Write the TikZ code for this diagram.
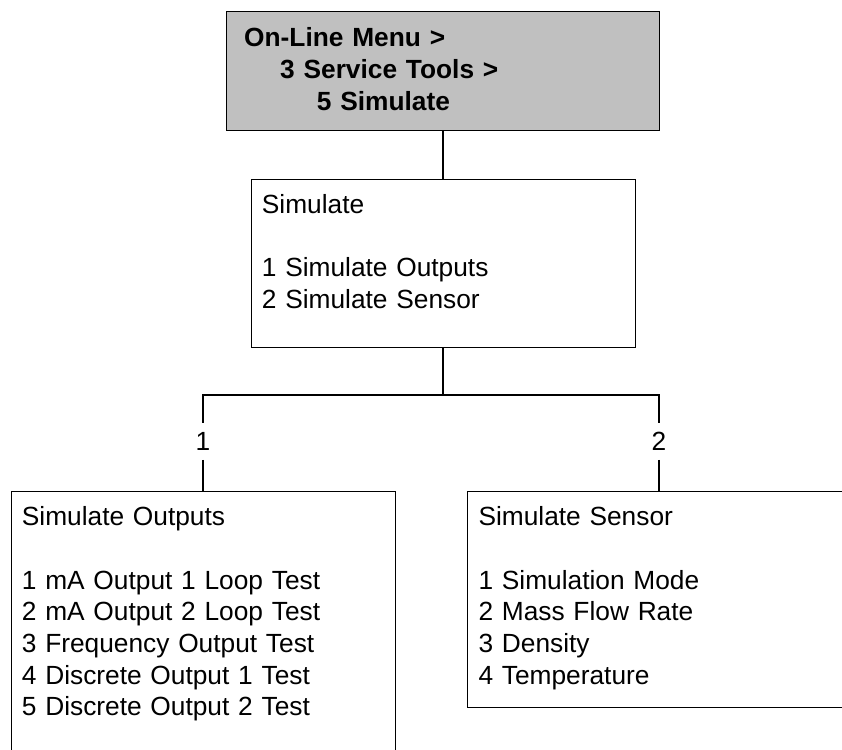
\documentclass[tikz,border=0pt]{standalone}
\usepackage{fontspec}
\setmainfont{Liberation Sans}
\begin{document}
\begin{tikzpicture}[x=1pt,y=-1pt,
  box/.style={draw=black,line width=1.3pt,rectangle,inner sep=0pt,anchor=north west},
  txt/.style={anchor=base west,inner sep=0pt,text width=420pt,align=left,
    font=\fontsize{26.3}{31.7}\selectfont},
  lbl/.style={inner xsep=2pt,inner ysep=9pt,font=\fontsize{26.3}{31.7}\selectfont},
  conn/.style={draw=black,line width=1.3pt}]
\useasboundingbox (0,0) rectangle (842,749);
\clip (0,0) rectangle (842,749);
% boxes
\node[box,fill={rgb,255:red,192;green,192;blue,192},minimum width=433pt,minimum height=119pt] (top) at (226,11) {};
\node[box,fill=white,minimum width=384pt,minimum height=168pt] (mid) at (251,179) {};
\node[box,fill=white,minimum width=384pt,minimum height=320pt] (out) at (11,491) {};
\node[box,fill=white,minimum width=400pt,minimum height=216pt] (sens) at (467,491) {};
% texts
\node[txt,font=\fontsize{26.3}{31.7}\selectfont\bfseries] (ttop) at (244,46.7)
  {On-Line Menu >\\\hspace*{36pt}3 Service Tools >\\\hspace*{72.7pt}5 Simulate};
\node[txt] (tmid) at (261.7,213)
  {Simulate\\[31.7pt]1 Simulate Outputs\\2 Simulate Sensor};
\node[txt] (tout) at (21.7,525.7)
  {Simulate Outputs\\[31.7pt]1 mA Output 1 Loop Test\\2 mA Output 2 Loop Test\\3 Frequency Output Test\\4 Discrete Output 1 Test\\5 Discrete Output 2 Test};
\node[txt] (tsens) at (478.3,525.7)
  {Simulate Sensor\\[31.7pt]1 Simulation Mode\\2 Mass Flow Rate\\3 Density\\4 Temperature};
% connectors
\coordinate (j) at (443,395);
\node[lbl] (l1) at (203,441.5) {1};
\node[lbl] (l2) at (659,441.5) {2};
\draw[conn] (top.south -| j) -- (mid.north -| j);
\draw[conn] (mid.south -| j) -- (j);
\draw[conn] (j) -| (l1.north);
\draw[conn] (j) -| (l2.north);
\draw[conn] (l1.south) -- (l1.south |- out.north);
\draw[conn] (l2.south) -- (l2.south |- sens.north);
\end{tikzpicture}
\end{document}
